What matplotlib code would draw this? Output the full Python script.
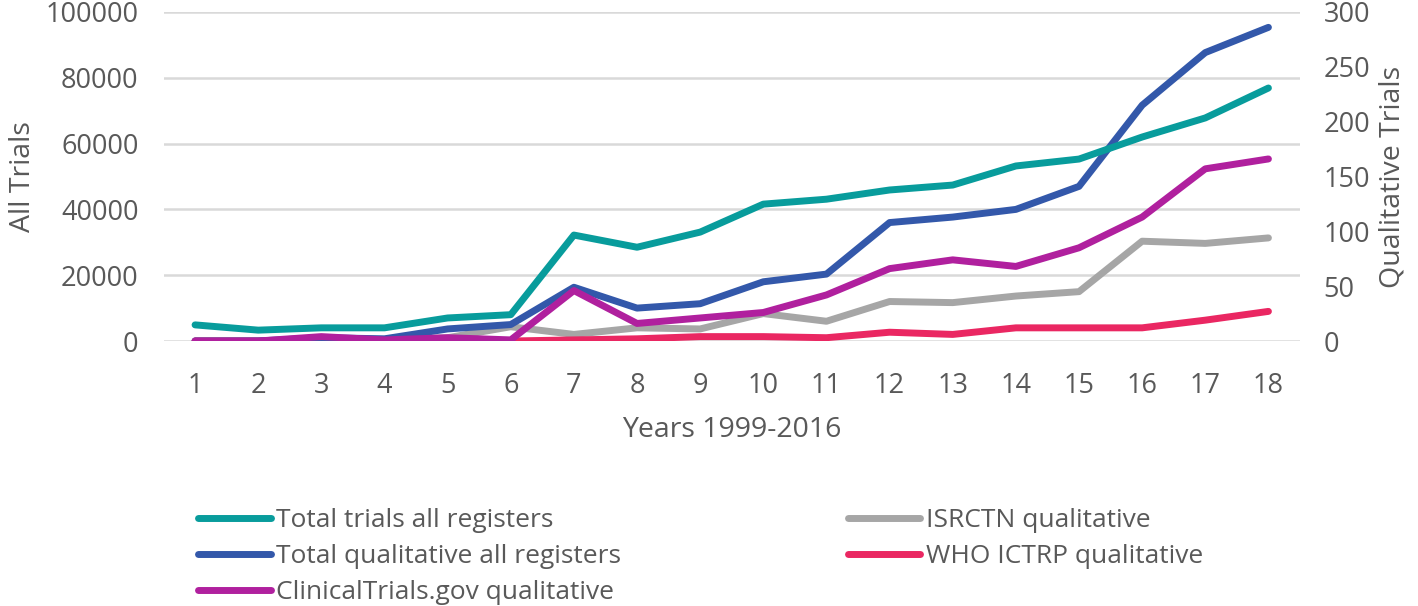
import matplotlib
matplotlib.use("Agg")
import matplotlib.pyplot as plt
import numpy as np

plt.rcParams['font.family'] = ['Open Sans', 'DejaVu Sans']

years = list(range(1, 19))
total_trials = [4900, 3300, 4000, 4000, 7000, 8000, 32200, 28500, 33100, 41600,
                43100, 45900, 47400, 53200, 55300, 62000, 67800, 76900]
total_qual = [0, 0, 3, 2, 11, 15, 49, 30, 34, 54, 61, 108, 113, 120, 141, 215, 263, 286]
ct_qual = [0, 0, 4, 1, 3, 1, 46, 16, 21, 26, 42, 66, 74, 68, 85, 113, 157, 166]
isrctn_qual = [0, 0, 1, 1, 3, 13, 6, 12, 11, 25, 18, 36, 35, 41, 45, 91, 89, 94]
who_qual = [0, 0, 0, 0, 0, 0, 1, 2, 4, 4, 3, 8, 6, 12, 12, 12, 19, 27]

c_teal = '#089C9C'
c_blue = '#3358AA'
c_mag = '#B0209E'
c_gray = '#A6A6A6'
c_pink = '#EA2762'
txt = '#595959'

fig = plt.figure(figsize=(14.18, 6.06), dpi=100)
ax = fig.add_axes([163.5/1418, 1-341/606, (1300-163.5)/1418, (341-12)/606])
ax2 = ax.twinx()

lw = 5
ax2.plot(years, isrctn_qual, color=c_gray, lw=lw, solid_capstyle='round', zorder=2, label='ISRCTN qualitative')
ax2.plot(years, who_qual, color=c_pink, lw=lw, solid_capstyle='round', zorder=2, label='WHO ICTRP qualitative')
ax2.plot(years, total_qual, color=c_blue, lw=lw, solid_capstyle='round', zorder=3, label='Total qualitative all registers')
ax2.plot(years, ct_qual, color=c_mag, lw=lw, solid_capstyle='round', zorder=4, label='ClinicalTrials.gov qualitative')
l1, = ax.plot(years, total_trials, color=c_teal, lw=lw, solid_capstyle='round', zorder=5, label='Total trials all registers')

ax.set_xlim(0.5, 18.5)
ax.set_ylim(0, 100000)
ax2.set_ylim(0, 300)
ax.set_yticks(np.arange(0, 100001, 20000))
ax2.set_yticks(np.arange(0, 301, 50))
ax.set_xticks(years)

# gridlines follow the left axis ticks (drawn on ax2 so they lie beneath all lines)
for y in np.arange(0, 301, 60):
    ax2.axhline(y, color='#D9D9D9', lw=1.8, zorder=0)

ax.set_zorder(ax2.get_zorder() + 1)
ax.patch.set_visible(False)

for a in (ax, ax2):
    for s in a.spines.values():
        s.set_visible(False)
    a.tick_params(length=0, labelsize=19.5, colors=txt)
ax.tick_params(axis='x', pad=22)
ax.tick_params(axis='y', pad=18)
ax2.tick_params(axis='y', pad=17)

ax.set_xlabel('Years 1999-2016', fontsize=20.5, color=txt, labelpad=12)
ax.set_ylabel('All Trials', fontsize=20.5, color=txt, labelpad=6)
ax2.set_ylabel('Qualitative Trials', fontsize=20.5, color=txt, labelpad=6)

lines2 = ax2.get_lines()
h = [l1, lines2[2], lines2[3], lines2[0], lines2[1]]
leg = fig.legend(handles=h, labels=[x.get_label() for x in h], ncol=2,
                 loc='upper left', bbox_to_anchor=(198/1418, 1-508/606),
                 frameon=False, fontsize=19, handlelength=2.75, handletextpad=0.2,
                 columnspacing=8.6, labelspacing=0.42, borderaxespad=0, borderpad=0)
for t in leg.get_texts():
    t.set_color(txt)

fig.savefig('out.png', dpi=100)
